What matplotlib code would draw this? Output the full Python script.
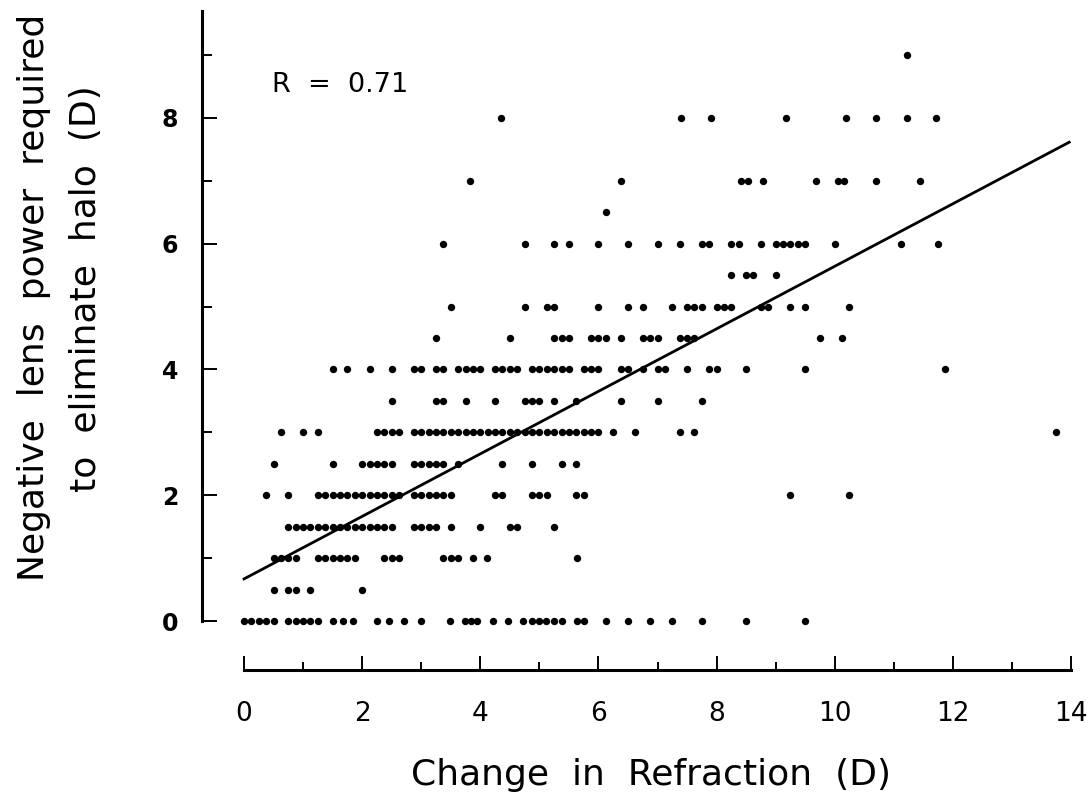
import numpy as np
import matplotlib
matplotlib.use("Agg")
import matplotlib.pyplot as plt
from matplotlib.ticker import MultipleLocator

# x values (change in refraction, D) for each level of negative lens power
x_y0 = [0, 0.125, 0.25, 0.375, 0.5, 0.75, 0.875, 1.0, 1.125, 1.25, 1.5, 1.68, 1.85,
        2.25, 2.46, 2.71, 2.99, 3.48, 3.74, 3.84, 3.94, 4.22, 4.47, 4.73, 4.87, 5.0,
        5.12, 5.25, 5.38, 5.63, 5.76, 6.13, 6.5, 6.87, 7.25, 7.75, 8.49, 9.49]
x_y05 = [0.5, 0.75, 0.875, 1.12, 2.0]
x_y1 = [0.5, 0.625, 0.75, 0.875, 1.25, 1.375, 1.5, 1.625, 1.75, 1.875, 2.375, 2.5,
        2.625, 3.375, 3.5, 3.625, 3.87, 4.12, 5.64]
x_y15 = [0.75, 0.875, 1.0, 1.125, 1.25, 1.375, 1.5, 1.625, 1.75, 1.875, 2.0, 2.125,
         2.25, 2.375, 2.5, 2.875, 3.0, 3.125, 3.25, 3.5, 4.0, 4.5, 4.625, 5.25]
x_y2 = [0.375, 0.75, 1.25, 1.375, 1.5, 1.625, 1.75, 1.875, 2.0, 2.125, 2.25, 2.375,
        2.5, 2.625, 2.875, 3.0, 3.125, 3.25, 3.375, 3.5, 4.25, 4.375, 4.875, 5.0,
        5.125, 5.625, 5.75, 9.25, 10.25]
x_y25 = [0.5, 1.5, 2.0, 2.125, 2.25, 2.375, 2.5, 2.875, 3.0, 3.125, 3.25, 3.375,
         3.625, 4.375, 4.875, 5.375, 5.625]
x_y3 = [0.625, 1.0, 1.25, 2.25, 2.375, 2.5, 2.625, 2.875, 3.0, 3.125, 3.25, 3.375,
        3.5, 3.625, 3.75, 3.875, 4.0, 4.125, 4.25, 4.375, 4.5, 4.625, 4.75, 4.875,
        5.0, 5.125, 5.25, 5.375, 5.5, 5.625, 5.75, 5.875, 6.0, 6.25, 6.625, 7.375,
        7.625, 13.75]
x_y35 = [2.5, 3.25, 3.375, 3.75, 4.25, 4.75, 4.875, 5.0, 5.25, 5.625, 6.375, 7.0, 7.75]
x_y4 = [1.5, 1.75, 2.125, 2.5, 2.875, 3.0, 3.25, 3.375, 3.625, 3.75, 3.875, 4.0,
        4.25, 4.375, 4.5, 4.625, 4.875, 5.0, 5.125, 5.25, 5.375, 5.5, 5.75, 5.875,
        6.0, 6.375, 6.5, 6.75, 7.0, 7.125, 7.5, 7.875, 8.0, 8.5, 9.5, 11.875]
x_y45 = [3.25, 4.5, 5.25, 5.375, 5.5, 5.875, 6.0, 6.125, 6.375, 6.75, 6.875, 7.0,
         7.375, 7.5, 7.625, 9.75, 10.125]
x_y5 = [3.5, 4.75, 5.125, 5.25, 6.0, 6.5, 6.75, 7.25, 7.5, 7.625, 7.75, 8.0, 8.125,
        8.25, 8.75, 8.875, 9.25, 9.5, 10.25]
x_y55 = [8.25, 8.5, 8.625, 9.0]
x_y6 = [3.375, 4.75, 5.25, 5.5, 6.0, 6.5, 7.0, 7.375, 7.75, 7.875, 8.25, 8.375,
        8.75, 9.0, 9.125, 9.25, 9.375, 9.5, 10.0, 11.125, 11.75]
x_y65 = [6.125]
x_y7 = [3.83, 6.39, 8.42, 8.53, 8.78, 9.68, 10.05, 10.16, 10.7, 11.45]
x_y8 = [4.35, 7.4, 7.91, 9.17, 10.19, 10.7, 11.22, 11.71]
x_y9 = [11.22]

levels = [0, 0.5, 1, 1.5, 2, 2.5, 3, 3.5, 4, 4.5, 5, 5.5, 6, 6.5, 7, 8, 9]
rows = [x_y0, x_y05, x_y1, x_y15, x_y2, x_y25, x_y3, x_y35, x_y4, x_y45, x_y5,
        x_y55, x_y6, x_y65, x_y7, x_y8, x_y9]

# regression line shown on the chart
fit_intercept = 0.67
fit_slope = 0.497
fit_x = [0, 13.97]
r_value = 0.71

x = np.concatenate([np.array(r, dtype=float) for r in rows])
y = np.concatenate([np.full(len(r), lv) for r, lv in zip(rows, levels)])

fig = plt.figure(figsize=(10.9, 7.99), dpi=100)
ax = fig.add_axes([0.1854, 0.1613, 0.808, 0.8329])

ax.plot(x, y, 'o', color='black', ms=5.3, mec='none', clip_on=False)
fx = np.array(fit_x)
ax.plot(fx, fit_intercept + fit_slope * fx, color='black', lw=2.0)

ax.set_xlim(-0.71, 14.2)
ax.set_ylim(-0.78, 9.8)

for s in ['top', 'right']:
    ax.spines[s].set_visible(False)
ax.spines['left'].set_bounds(0, 9.7)
ax.spines['bottom'].set_bounds(0, 14)
ax.spines['left'].set_linewidth(2.2)
ax.spines['bottom'].set_linewidth(2.2)

ax.xaxis.set_major_locator(MultipleLocator(2))
ax.xaxis.set_minor_locator(MultipleLocator(1))
ax.yaxis.set_major_locator(MultipleLocator(2))
ax.yaxis.set_minor_locator(MultipleLocator(1))
ax.set_yticks([0, 2, 4, 6, 8])
ax.set_yticks([1, 3, 5, 7, 9], minor=True)
ax.set_xticks(range(0, 15, 2))

ax.tick_params(axis='x', which='major', direction='in', length=10, width=1.4,
               pad=22, labelsize=19)
ax.tick_params(axis='x', which='minor', direction='in', length=6, width=1.4)
ax.tick_params(axis='y', which='major', direction='in', length=11, width=1.4,
               pad=17, labelsize=17)
ax.tick_params(axis='y', which='minor', direction='in', length=7, width=1.4)
for lab in ax.get_yticklabels():
    lab.set_fontweight('bold')

ax.text(0.47, 8.52, 'R  =  %.2f' % r_value, fontsize=19.5, va='center', ha='left')

fig.text(651 / 1090, 1 - 775 / 799, 'Change  in  Refraction  (D)', fontsize=26,
         ha='center', va='center')
fig.text(34 / 1090, 1 - 297 / 799, 'Negative  lens  power  required', fontsize=26,
         rotation=90, ha='center', va='center')
fig.text(86 / 1090, 1 - 289 / 799, 'to  eliminate  halo  (D)', fontsize=26,
         rotation=90, ha='center', va='center')

fig.savefig('out.png', dpi=100)
